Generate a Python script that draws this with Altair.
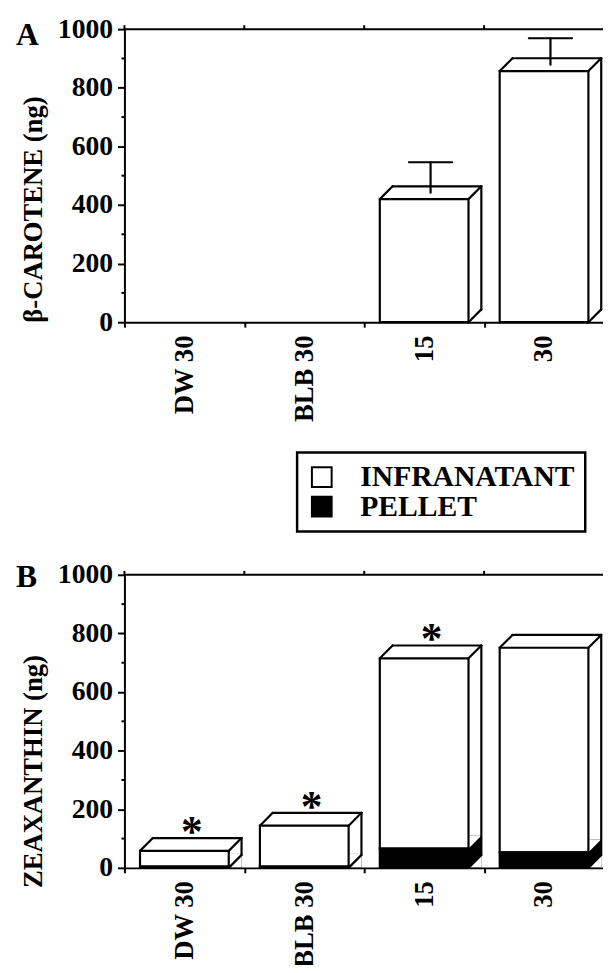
import altair as alt
import pandas as pd

# ---------------- data ----------------
categories = ["DW 30", "BLB 30", "15", "30"]

# Panel A: beta-carotene (ng)
carotene_infranatant = [0, 0, 420, 857]
carotene_pellet = [0, 0, 0, 0]
carotene_error = [0, 0, 104, 90]
carotene_star = ["", "", "", ""]

# Panel B: zeaxanthin (ng)
zeax_infranatant = [54, 140, 649, 698]
zeax_pellet = [4, 4, 66, 53]
zeax_error = [0, 0, 0, 0]
zeax_star = ["*", "*", "*", ""]

parts = ["INFRANATANT", "PELLET"]
part_colors = ["white", "black"]
y_major = [0, 200, 400, 600, 800, 1000]
y_minor = [100, 300, 500, 700, 900]
Y_MAX = 1000

# ---------------- style ----------------
SERIF = "Liberation Serif"
D = 13            # depth of the 3-D boxes (px)
BAND = 0.74       # front face width as a fraction of the band
L, R = 0.5 - BAND / 2, 0.5 + BAND / 2
CAP = 0.18        # half width of error-bar caps (fraction of band)
W, H = 486, 297
LW = 2.2

xscale = alt.Scale(type="band", paddingInner=0, paddingOuter=0)
yscale = alt.Scale(domain=[0, Y_MAX], nice=False)

xaxis = alt.Axis(
    title=None, labelAngle=-90, labelAlign="right", labelBaseline="middle",
    labelFont=SERIF, labelFontWeight="bold", labelFontSize=27, labelColor="black",
    labelPadding=8, tickBand="extent", tickSize=5, tickWidth=2, tickColor="black",
    domainColor="black", domainWidth=2, zindex=1,
)

legend = alt.Legend(
    title=None, orient="none", legendX=175, legendY=429,
    symbolType="square", symbolSize=400, symbolStrokeColor="black",
    symbolStrokeWidth=2, symbolOpacity=1, labelLimit=0,
    labelFont=SERIF, labelFontWeight="bold", labelFontSize=30, labelColor="black",
    labelOffset=24, padding=10, rowPadding=0, strokeColor="black",
)


def X(bp=None):
    if bp is None:
        return alt.X("cat:N", sort=categories, scale=xscale, axis=xaxis)
    return alt.X("cat:N", sort=categories, scale=xscale, axis=xaxis, bandPosition=bp)


def X2(bp):
    return alt.X2("cat:N", bandPosition=bp)


def panel(df, ytitle, letter, title_y, letter_y):
    yaxis = alt.Axis(
        title=ytitle, values=y_major, format="d", tickSize=7,
        tickWidth=2, tickColor="black", domainColor="black", domainWidth=2,
        labelFont=SERIF, labelFontWeight="bold", labelFontSize=28, labelColor="black",
        labelPadding=5, titleFont=SERIF, titleFontWeight="bold", titleFontSize=27,
        titleColor="black", titlePadding=10, titleAlign="left", titleY=title_y,
        grid=False, zindex=1,
    )

    def Y(field, **kw):
        return alt.Y(field, scale=yscale, axis=yaxis, **kw)

    base = alt.Chart(df).transform_calculate(
        total="datum.INFRANATANT + datum.PELLET",
        zero="0",
        errtop="datum.total + datum.err",
    )
    boxes = base.transform_filter("datum.total > 0")
    pel = base.transform_filter("datum.PELLET > 0")

    # black side face of the pellet part (drawn first, trimmed by white corners)
    pel_side = pel.mark_rule(
        color="black", strokeWidth=D, strokeCap="butt", xOffset=D / 2, yOffset=-D
    ).encode(x=X(R), y=Y("PELLET:Q"), y2="zero:Q")
    tri_top = pel.mark_point(
        shape="M0,0L0,-1L1,-1Z", size=4 * D * D, filled=True, color="white",
        strokeWidth=0, opacity=1,
    ).encode(x=X(R), y=Y("PELLET:Q"))
    tri_bot = pel.mark_point(
        shape="M0,0L1,0L1,-1Z", size=4 * D * D, filled=True, color="white",
        strokeWidth=0, opacity=1,
    ).encode(x=X(R), y=Y("zero:Q"))

    # front faces: stacked infranatant / pellet
    front = base.transform_fold(parts, as_=["part", "value"]).transform_calculate(
        order="datum.part === 'PELLET' ? 0 : 1"
    ).transform_filter("datum.value > 0").mark_bar(
        width={"band": BAND}, stroke="black", strokeWidth=LW
    ).encode(
        x=X(),
        y=Y("value:Q", stack="zero"),
        fill=alt.Fill("part:N", scale=alt.Scale(domain=parts, range=part_colors), legend=legend),
        order=alt.Order("order:Q"),
    )

    rule = dict(color="black", strokeWidth=LW, strokeCap="round")
    diag_l = boxes.mark_rule(x2Offset=D, y2Offset=-D, **rule).encode(
        x=X(L), x2=X2(L), y=Y("total:Q"), y2="total:Q")
    diag_r = boxes.mark_rule(x2Offset=D, y2Offset=-D, **rule).encode(
        x=X(R), x2=X2(R), y=Y("total:Q"), y2="total:Q")
    top_back = boxes.mark_rule(xOffset=D, x2Offset=D, yOffset=-D, **rule).encode(
        x=X(L), x2=X2(R), y=Y("total:Q"))
    back_r = boxes.mark_rule(xOffset=D, yOffset=-D, y2Offset=-D, **rule).encode(
        x=X(R), y=Y("total:Q"), y2="zero:Q")
    diag_b = boxes.mark_rule(x2Offset=D, y2Offset=-D, **rule).encode(
        x=X(R), x2=X2(R), y=Y("zero:Q"), y2="zero:Q")

    errs = base.transform_filter("datum.err > 0")
    err_v = errs.mark_rule(xOffset=D / 2, yOffset=-D / 2, y2Offset=-D / 2, **rule).encode(
        x=X(0.5), y=Y("total:Q"), y2="errtop:Q")
    err_c = errs.mark_rule(xOffset=D / 2, x2Offset=D / 2, yOffset=-D / 2, **rule).encode(
        x=X(0.5 - CAP), x2=X2(0.5 + CAP), y=Y("errtop:Q"))

    stars = base.transform_filter("datum.star !== ''").mark_text(
        font=SERIF, fontWeight="bold", fontSize=44, color="black",
        align="center", baseline="alphabetic", xOffset=D / 2 + 1, yOffset=-5,
    ).encode(x=X(0.5), y=Y("total:Q"), text="star:N")

    frame_df = pd.DataFrame({"top": [Y_MAX]})
    top_line = alt.Chart(frame_df).mark_rule(color="black", strokeWidth=2).encode(
        y=Y("top:Q"))
    top_ticks = base.transform_calculate(top=str(Y_MAX)).mark_rule(
        color="black", strokeWidth=2, yOffset=-4).encode(
        x=X(0), y=Y("top:Q"), y2="top:Q")
    minor_ticks = alt.Chart(pd.DataFrame({"v": y_minor})).mark_rule(
        color="black", strokeWidth=2).encode(
        y=Y("v:Q"), x=alt.value(0), x2=alt.value(-3))

    label = alt.Chart(pd.DataFrame({"t": [letter]})).mark_text(
        x=-110, y=letter_y, align="left", baseline="alphabetic",
        font=SERIF, fontWeight="bold", fontSize=32, color="black",
    ).encode(text="t:N")

    return alt.layer(
        pel_side, tri_top, tri_bot, front, diag_l, diag_r, top_back, back_r, diag_b,
        err_v, err_c, stars, top_line, top_ticks, minor_ticks, label,
    ).properties(width=W, height=H)


dfA = pd.DataFrame({
    "cat": categories, "INFRANATANT": carotene_infranatant, "PELLET": carotene_pellet,
    "err": carotene_error, "star": carotene_star,
})
dfB = pd.DataFrame({
    "cat": categories, "INFRANATANT": zeax_infranatant, "PELLET": zeax_pellet,
    "err": zeax_error, "star": zeax_star,
})

panelA = panel(dfA, "β-CAROTENE (ng)", "A", H, 16)
panelB = panel(dfB, "ZEAXANTHIN (ng)", "B", H + 20, 12)

chart = alt.vconcat(panelA, panelB, spacing=141).properties(
    padding={"left": 8, "top": 1, "right": -2, "bottom": -9}
).configure_view(stroke=None).configure_legend(strokeWidth=2.5)

chart.save("out.html", embed_options={"renderer": "svg", "actions": False})
